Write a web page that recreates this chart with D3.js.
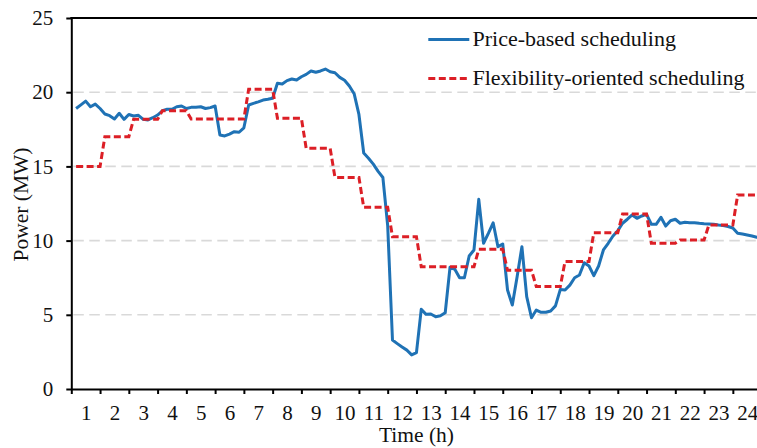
<!DOCTYPE html>
<html>
<head>
<meta charset="utf-8">
<script src="https://cdn.jsdelivr.net/npm/d3@7"></script>
<style>
  body { margin: 0; background: #fff; }
  svg { display: block; }
  text { font-family: "Liberation Serif", "Times New Roman", serif; fill: #111; }
</style>
</head>
<body>
<div id="chart"></div>
<script>
const width = 757;
const height = 448;

// 10-minute values of the price-based schedule (MW)
const priceBased = [
  18.9, 19.15, 19.4, 19.02, 19.2, 18.9,
  18.53, 18.42, 18.2, 18.58, 18.17, 18.5,
  18.4, 18.44, 18.17, 18.13, 18.28, 18.46,
  18.75, 18.85, 18.85, 19.02, 19.07, 18.9,
  18.98, 18.98, 19.02, 18.9, 18.96, 19.07,
  17.12, 17.05, 17.18, 17.34, 17.3, 17.6,
  19.14, 19.25, 19.35, 19.47, 19.52, 19.59,
  20.6, 20.55, 20.78, 20.89, 20.82, 21.04,
  21.2, 21.43, 21.34, 21.43, 21.56, 21.38,
  21.31, 21.0, 20.8, 20.42, 19.9, 18.5,
  15.9, 15.55, 15.15, 14.66, 14.25, 11.0,
  3.3, 3.06, 2.83, 2.62, 2.3, 2.45,
  5.37, 5.03, 5.05, 4.87, 4.94, 5.14,
  8.2, 8.07, 7.5, 7.5, 8.96, 9.37,
  12.78, 9.82, 10.49, 11.2, 9.59, 9.77,
  6.67, 5.66, 7.57, 9.59, 6.22, 4.8,
  5.32, 5.17, 5.17, 5.26, 5.6, 6.7,
  6.67, 7.0, 7.5, 7.68, 8.51, 8.29,
  7.64, 8.29, 9.37, 9.82, 10.31, 10.67,
  11.17, 11.44, 11.73, 11.5, 11.66, 11.77,
  11.1, 11.1, 11.57, 10.98, 11.34, 11.44,
  11.17, 11.23, 11.21, 11.21, 11.17, 11.14,
  11.12, 11.1, 11.05, 11.02, 10.95, 10.85,
  10.49, 10.44, 10.38, 10.31, 10.22, 10.18
];

// hourly values of the flexibility-oriented schedule (MW)
const flexHourly = [
  15.0, 17.0, 18.17, 18.75, 18.2, 18.2,
  20.2, 18.24, 16.22, 14.26, 12.24, 10.26,
  8.24, 8.24, 9.41, 8.0, 6.9, 8.6,
  10.53, 11.79, 9.82, 10.04, 11.05, 13.07
];

const hourLabels = ["1","2","3","4","5","6","7","8","9","10","11","12",
  "13","14","15","16","17","18","19","20","21","22","23","24"];
const yTicks = [0, 5, 10, 15, 20, 25];
const gridTicks = [5, 10, 15, 20];
const seriesNames = ["Price-based scheduling", "Flexibility-oriented scheduling"];

const blue = "#1f72b5";
const red = "#dc1f26";

const svg = d3.select("#chart")
    .append("svg")
    .attr("width", width)
    .attr("height", height);

const x = d3.scaleLinear().domain([0, 24]).range([71.3, 761.6]);
const y = d3.scaleLinear().domain([0, 25]).range([389, 18]);

// each value covers a 10-minute step and is drawn at its end time
const stepsPerHour = 6;
const blueData = priceBased.map((v, i) => ({t: (i + 1) / stepsPerHour, v: v}));
const redData = [];
flexHourly.forEach((v, h) => {
    for (let s = 1; s <= stepsPerHour; s++) {
        redData.push({t: h + s / stepsPerHour, v: v});
    }
});

// grid
svg.append("g")
    .selectAll("line")
    .data(gridTicks)
    .join("line")
    .attr("x1", x(0) + 2)
    .attr("x2", x(24))
    .attr("y1", d => y(d))
    .attr("y2", d => y(d))
    .attr("stroke", "#d9d9d9")
    .attr("stroke-width", 1.6)
    .attr("stroke-dasharray", "10.5,5.5");

const line = d3.line()
    .x(d => x(d.t))
    .y(d => y(d.v));

svg.append("path")
    .datum(blueData)
    .attr("d", line)
    .attr("fill", "none")
    .attr("stroke", blue)
    .attr("stroke-width", 3)
    .attr("stroke-linejoin", "round");

svg.append("path")
    .datum(redData)
    .attr("d", line)
    .attr("fill", "none")
    .attr("stroke", red)
    .attr("stroke-width", 3)
    .attr("stroke-dasharray", "7,3.5");

// axes
const yAxis = svg.append("g")
    .attr("transform", `translate(${x(0)},0)`)
    .call(d3.axisLeft(y).tickValues(yTicks).tickSize(5).tickSizeOuter(0).tickPadding(13));

const xAxis = svg.append("g")
    .attr("transform", `translate(0,${y(0)})`)
    .call(d3.axisBottom(x).tickValues(d3.range(0, 25)).tickSize(5).tickSizeOuter(0).tickFormat(""));

const xLabels = svg.append("g")
    .attr("transform", `translate(0,${y(0)})`)
    .call(d3.axisBottom(x)
        .tickValues(hourLabels.map((d, i) => i + 0.5))
        .tickSize(0)
        .tickPadding(16)
        .tickFormat((d, i) => hourLabels[i]));
xLabels.select(".domain").remove();

[yAxis, xAxis].forEach(g => {
    g.select(".domain").attr("stroke", "#000").attr("stroke-width", 2);
    g.selectAll(".tick line").attr("stroke", "#000").attr("stroke-width", 2);
});
svg.selectAll(".tick text")
    .style("font-family", '"Liberation Serif", "Times New Roman", serif')
    .style("font-size", "21px")
    .attr("fill", "#111");

// top border
svg.append("line")
    .attr("x1", x(0) - 1)
    .attr("x2", x(24))
    .attr("y1", y(25))
    .attr("y2", y(25))
    .attr("stroke", "#000")
    .attr("stroke-width", 2);

// axis titles
svg.append("text")
    .attr("x", (x(0) + x(24)) / 2)
    .attr("y", 441.5)
    .attr("text-anchor", "middle")
    .style("font-size", "21.5px")
    .text("Time (h)");

svg.append("text")
    .attr("transform", `translate(28.3,${(y(0) + y(25)) / 2 + 1}) rotate(-90)`)
    .attr("text-anchor", "middle")
    .style("font-size", "21.5px")
    .text("Power (MW)");

// legend
const legend = svg.append("g");
const legendRows = [
    {name: seriesNames[0], color: blue, dash: null, yPos: 39.5},
    {name: seriesNames[1], color: red, dash: "7,3.5", yPos: 78.5}
];
legendRows.forEach(r => {
    legend.append("line")
        .attr("x1", 428.3)
        .attr("x2", 469.3)
        .attr("y1", r.yPos)
        .attr("y2", r.yPos)
        .attr("stroke", r.color)
        .attr("stroke-width", 3)
        .attr("stroke-dasharray", r.dash);
    legend.append("text")
        .attr("x", 472.5)
        .attr("y", r.yPos + 6.7)
        .style("font-size", "22px")
        .text(r.name);
});
</script>
</body>
</html>
